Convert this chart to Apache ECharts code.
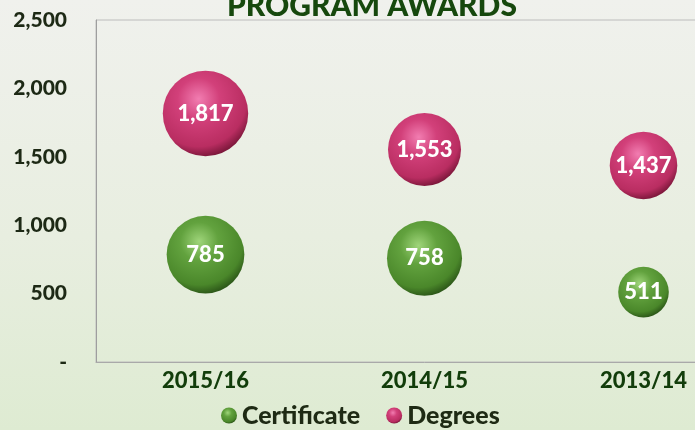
<!DOCTYPE html>
<html>
<head>
<meta charset="utf-8">
<script src="https://cdn.jsdelivr.net/npm/echarts@6/dist/echarts.min.js"></script>
<style>
  html, body { margin: 0; padding: 0; overflow: hidden; }
  body { width: 695px; height: 430px; background: linear-gradient(to bottom, #f0f1ed 0%, #e8eee0 55%, #deebd2 100%); }
  /* 图表比窗口宽，右侧被裁掉 */
  #chart { width: 753px; height: 430px; }
</style>
</head>
<body>
<div id="chart"></div>
<script>
// 数据
const years = ['2015/16', '2014/15', '2013/14']
const certificate = [785, 758, 511]
const degrees = [1817, 1553, 1437]
const yTicks = [0, 500, 1000, 1500, 2000, 2500]

const font = 'Lato, "Noto Sans", sans-serif'

// 气泡样式
function ball (light, mid, dark, edge) {
  return {
    type: 'radial', x: 0.42, y: 0.33, r: 0.7,
    colorStops: [
      {offset: 0, color: light},
      {offset: 0.35, color: mid},
      {offset: 0.8, color: dark},
      {offset: 1, color: edge}
    ]
  }
}
const greenBall = ball('#9fd57a', '#62a23e', '#4a872a', '#285016')
const pinkBall = ball('#f27db1', '#d2407a', '#b92d61', '#731435')

const label = {
  show: true,
  position: 'inside',
  color: '#ffffff',
  fontFamily: font,
  fontWeight: 900,
  fontSize: 22,
  formatter: p => p.value.toLocaleString('en-US')
}

const chart = echarts.init(document.getElementById('chart'))
chart.setOption({
  title: {
    text: 'PROGRAM AWARDS',
    left: 222,
    top: -14,
    textStyle: {color: '#16480d', fontFamily: font, fontWeight: 900, fontSize: 30}
  },
  legend: {
    bottom: -3,
    left: 216,
    icon: 'circle',
    itemWidth: 16,
    itemHeight: 16,
    itemGap: 26,
    textStyle: {color: '#1e2a14', fontFamily: font, fontWeight: 900, fontSize: 25},
    data: [
      {name: 'Certificate', itemStyle: {color: greenBall, opacity: 1}},
      {name: 'Degrees', itemStyle: {color: pinkBall, opacity: 1}}
    ]
  },
  grid: {
    left: 96, right: 0, top: 20, bottom: 68,
    show: true, borderColor: '#bcbcbc', borderWidth: 1
  },
  xAxis: {
    type: 'category',
    data: years,
    axisLine: {show: true, lineStyle: {color: '#a9a9a9', width: 1}},
    axisTick: {show: false},
    axisLabel: {margin: 8, color: '#123d0b', fontFamily: font, fontWeight: 900, fontSize: 22}
  },
  yAxis: {
    type: 'value',
    min: yTicks[0],
    max: yTicks[yTicks.length - 1],
    interval: 500,
    axisLine: {show: true, lineStyle: {color: '#9e9e9e', width: 1}},
    axisTick: {show: false},
    splitLine: {show: false},
    axisLabel: {
      margin: 29,
      padding: [5, 0, 0, 0],
      color: '#1d2915',
      fontFamily: font,
      fontWeight: 900,
      fontSize: 21,
      formatter: v => v === 0 ? '-' : v.toLocaleString('en-US')
    }
  },
  series: [
    {
      name: 'Certificate',
      type: 'scatter',
      data: certificate,
      symbolSize: v => v * 0.099,
      itemStyle: {color: greenBall, opacity: 1},
      label: label
    },
    {
      name: 'Degrees',
      type: 'scatter',
      data: degrees,
      symbolSize: v => v * 0.047,
      itemStyle: {color: pinkBall, opacity: 1},
      label: label
    }
  ]
})
</script>
</body>
</html>
